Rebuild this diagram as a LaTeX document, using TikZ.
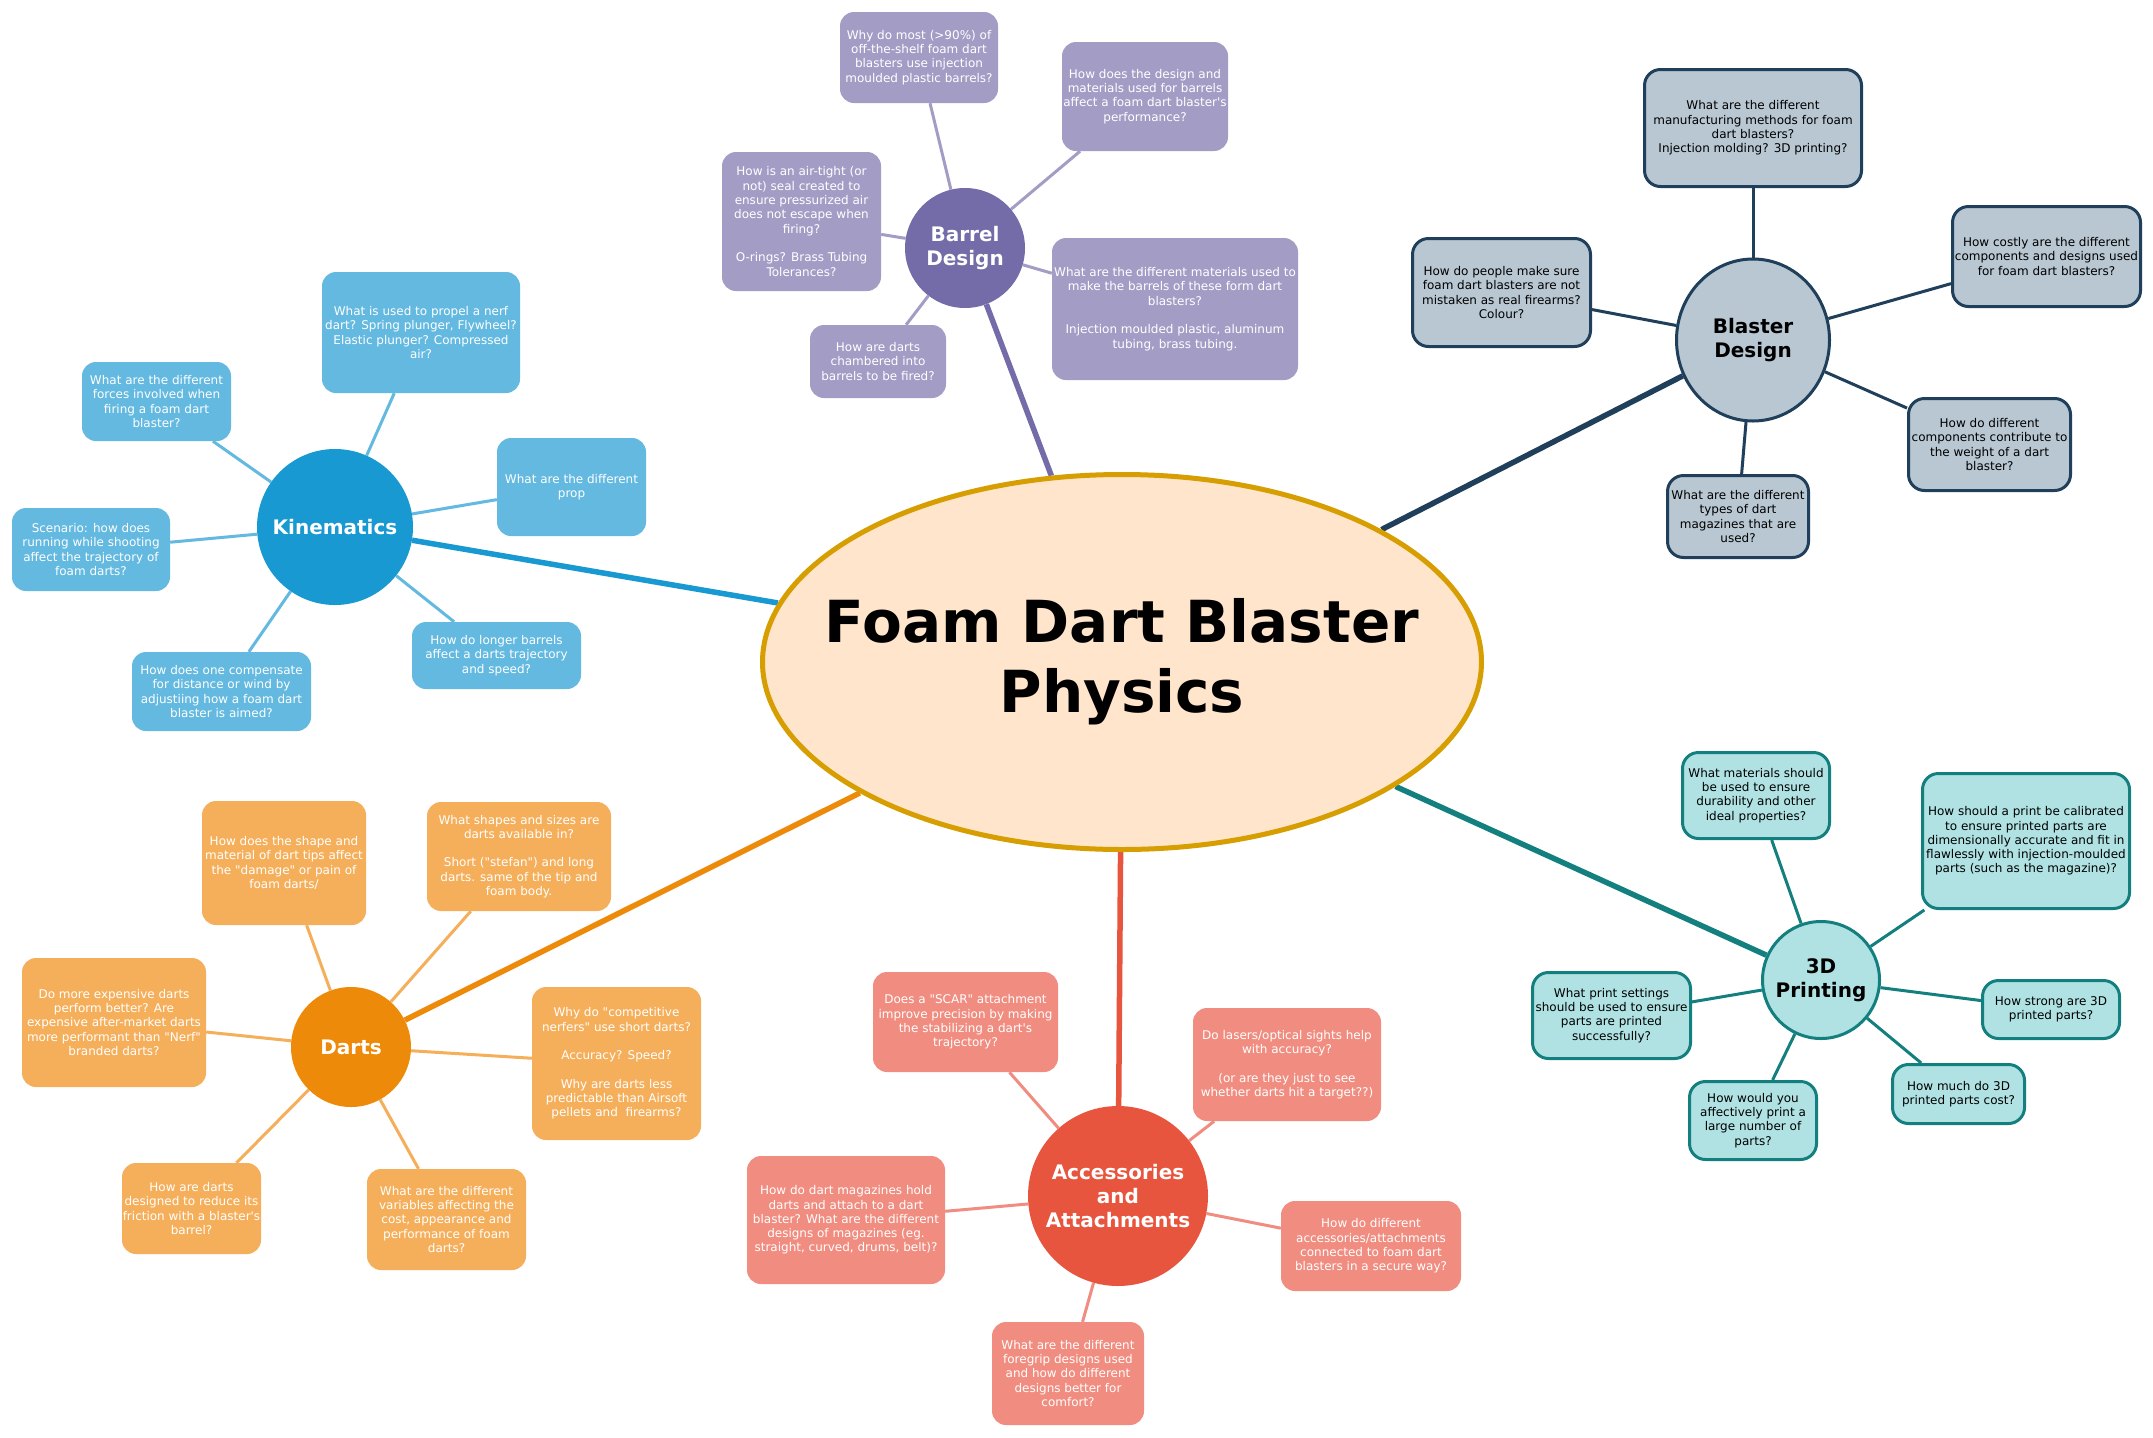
\documentclass[tikz,border=0pt]{standalone}
\usepackage{fontspec}
\setmainfont{DejaVu Sans}
\newfontfamily\dvs{DejaVu Sans}
\usetikzlibrary{shapes.geometric}
\pgfdeclarelayer{back}
\pgfdeclarelayer{edges}
\pgfsetlayers{back,edges,main}
\definecolor{cenF}{HTML}{FFE5CC}
\definecolor{cenB}{HTML}{D69E00}
\definecolor{kinD}{HTML}{1899D1}
\definecolor{kinL}{HTML}{63B9E0}
\definecolor{barD}{HTML}{736CA8}
\definecolor{barL}{HTML}{A39DC6}
\definecolor{blaF}{HTML}{B8C7D2}
\definecolor{blaB}{HTML}{1F3F5A}
\definecolor{darD}{HTML}{EE8A0A}
\definecolor{darL}{HTML}{F5AF5B}
\definecolor{accD}{HTML}{E8553F}
\definecolor{accL}{HTML}{F08D80}
\definecolor{triF}{HTML}{B0E2E3}
\definecolor{triB}{HTML}{13807F}
\tikzset{
  txt/.style={align=center, font=\dvs\fontsize{12}{14.3}\selectfont, inner sep=0pt},
  topic/.style={align=center, font=\dvs\bfseries\fontsize{20}{24}\selectfont, inner sep=0pt},
  kbox/.style={txt, rectangle, rounded corners=14pt, fill=kinL, text=white},
  bbox/.style={txt, rectangle, rounded corners=14pt, fill=barL, text=white},
  dbox/.style={txt, rectangle, rounded corners=14pt, fill=darL, text=white},
  abox/.style={txt, rectangle, rounded corners=14pt, fill=accL, text=white},
  lbox/.style={txt, rectangle, rounded corners=16pt, fill=blaF, draw=blaB, line width=3pt, text=black},
  pbox/.style={txt, rectangle, rounded corners=16pt, fill=triF, draw=triB, line width=3pt, text=black},
  kline/.style={draw=kinL, line width=3pt},
  bline/.style={draw=barL, line width=3pt},
  dline/.style={draw=darL, line width=3pt},
  aline/.style={draw=accL, line width=3pt},
  lline/.style={draw=blaB, line width=3pt},
  pline/.style={draw=triB, line width=3pt},
  mainline/.style={line width=5.5pt},
}
\begin{document}
\begin{tikzpicture}[x=1pt,y=-1pt]
\useasboundingbox (0,0) rectangle (2153,1438);
\begin{pgfonlayer}{back}
\fill[white] (0,0) rectangle (2153,1438);
\end{pgfonlayer}

% central
\node[ellipse, fill=cenF, draw=cenB, line width=5pt, minimum width=719, minimum height=375, inner sep=0pt] (C) at (1122,662) {};
\node[align=center, inner sep=0pt, font=\dvs\bfseries\fontsize{58}{70}\selectfont] (Ct) at (C.center) {Foam Dart Blaster\\Physics};

% topics
\node[circle, fill=kinD, text=white, topic, minimum size=156] (kin) at (335,527) {Kinematics};
\node[circle, fill=barD, text=white, topic, minimum size=120] (bar) at (965,248) {Barrel\\Design};
\node[ellipse, fill=blaF, draw=blaB, line width=3pt, text=black, topic, minimum width=153, minimum height=162] (bla) at (1753,340) {Blaster\\Design};
\node[circle, fill=darD, text=white, topic, minimum size=120] (dar) at (351,1047) {Darts};
\node[circle, fill=accD, text=white, topic, minimum size=180] (acc) at (1118,1196) {Accessories\\and\\Attachments};
\node[circle, fill=triF, draw=triB, line width=3pt, text=black, topic, minimum size=117] (tri) at (1821,980) {3D\\Printing};

% Barrel Design
\node[bbox, minimum width=158, minimum height=91] (b1) at (919,57.5) {Why do most (>90\%) of\\off-the-shelf foam dart\\blasters use injection\\moulded plastic barrels?};
\node[bbox, minimum width=166, minimum height=109] (b2) at (1145,96.5) {How does the design and\\materials used for barrels\\affect a foam dart blaster's\\performance?};
\node[bbox, minimum width=159, minimum height=139] (b3) at (801.5,221.5) {How is an air-tight (or\\not) seal created to\\ensure pressurized air\\does not escape when\\firing?\\[14.3pt]O-rings? Brass Tubing\\Tolerances?};
\node[bbox, minimum width=136, minimum height=73] (b4) at (878,361.5) {How are darts\\chambered into\\barrels to be fired?};
\node[bbox, minimum width=246, minimum height=142] (b5) at (1175,309) {What are the different materials used to\\make the barrels of these form dart\\blasters?\\[14.3pt]Injection moulded plastic, aluminum\\tubing, brass tubing.};

% Blaster Design
\node[lbox, minimum width=217, minimum height=117] (l1) at (1753,128) {What are the different\\manufacturing methods for foam\\dart blasters?\\Injection molding? 3D printing?};
\node[lbox, minimum width=188, minimum height=100] (l2) at (2046.5,256.5) {How costly are the different\\components and designs used\\for foam dart blasters?};
\node[lbox, minimum width=178, minimum height=108] (l3) at (1501.5,292.5) {How do people make sure\\foam dart blasters are not\\mistaken as real firearms?\\Colour?};
\node[lbox, minimum width=162, minimum height=92] (l4) at (1989.5,444.5) {How do different\\components contribute to\\the weight of a dart\\blaster?};
\node[lbox, minimum width=141, minimum height=82] (l5) at (1738,516.5) {What are the different\\types of dart\\magazines that are\\used?};

% Kinematics
\node[kbox, minimum width=198, minimum height=121] (k1) at (421,332.5) {What is used to propel a nerf\\dart? Spring plunger, Flywheel?\\Elastic plunger? Compressed\\air?};
\node[kbox, minimum width=149, minimum height=79] (k2) at (156.5,401.5) {What are the different\\forces involved when\\firing a foam dart\\blaster?};
\node[kbox, minimum width=149, minimum height=98] (k3) at (571.5,487) {What are the different\\prop};
\node[kbox, minimum width=158, minimum height=83] (k4) at (91,549.5) {Scenario: how does\\running while shooting\\affect the trajectory of\\foam darts?};
\node[kbox, minimum width=179, minimum height=79] (k5) at (221.5,691.5) {How does one compensate\\for distance or wind by\\adjustiing how a foam dart\\blaster is aimed?};
\node[kbox, minimum width=169, minimum height=67] (k6) at (496.5,655.5) {How do longer barrels\\affect a darts trajectory\\and speed?};

% Darts
\node[dbox, minimum width=164, minimum height=124] (d1) at (284,863) {How does the shape and\\material of dart tips affect\\the "damage" or pain of\\foam darts/};
\node[dbox, minimum width=184, minimum height=109] (d2) at (519,856.5) {What shapes and sizes are\\darts available in?\\[14.3pt]Short ("stefan") and long\\darts. same of the tip and\\foam body.};
\node[dbox, minimum width=184, minimum height=129] (d3) at (114,1022.5) {Do more expensive darts\\perform better? Are\\expensive after-market darts\\more performant than "Nerf"\\branded darts?};
\node[dbox, minimum width=169, minimum height=153] (d4) at (616.5,1063.5) {Why do "competitive\\nerfers" use short darts?\\[14.3pt]Accuracy? Speed?\\[14.3pt]Why are darts less\\predictable than Airsoft\\pellets and\ \ firearms?};
\node[dbox, minimum width=139, minimum height=91] (d5) at (191.5,1208.5) {How are darts\\designed to reduce its\\friction with a blaster's\\barrel?};
\node[dbox, minimum width=159, minimum height=101] (d6) at (446.5,1219.5) {What are the different\\variables affecting the\\cost, appearance and\\performance of foam\\darts?};

% Accessories
\node[abox, minimum width=185, minimum height=100] (a1) at (965.5,1022) {Does a "SCAR" attachment\\improve precision by making\\the stabilizing a dart's\\trajectory?};
\node[abox, minimum width=188, minimum height=113] (a2) at (1287,1064.5) {Do lasers/optical sights help\\with accuracy?\\[14.3pt](or are they just to see\\whether darts hit a target??)};
\node[abox, minimum width=198, minimum height=128] (a3) at (846,1220) {How do dart magazines hold\\darts and attach to a dart\\blaster? What are the different\\designs of magazines (eg.\\straight, curved, drums, belt)?};
\node[abox, minimum width=180, minimum height=90] (a4) at (1371,1246) {How do different\\accessories/attachments\\connected to foam dart\\blasters in a secure way?};
\node[abox, minimum width=152, minimum height=103] (a5) at (1068,1373.5) {What are the different\\foregrip designs used\\and how do different\\designs better for\\comfort?};

% 3D Printing
\node[pbox, minimum width=147, minimum height=86] (p1) at (1756,795.5) {What materials should\\be used to ensure\\durability and other\\ideal properties?};
\node[pbox, minimum width=207, minimum height=135] (p2) at (2026,841) {How should a print be calibrated\\to ensure printed parts are\\dimensionally accurate and fit in\\flawlessly with injection-moulded\\parts (such as the magazine)?};
\node[pbox, minimum width=158, minimum height=86] (p3) at (1611.5,1015.5) {What print settings\\should be used to ensure\\parts are printed\\successfully?};
\node[pbox, minimum width=137, minimum height=58] (p4) at (2051,1009.5) {How strong are 3D\\printed parts?};
\node[pbox, minimum width=127, minimum height=78] (p5) at (1753,1120.5) {How would you\\affectively print a\\large number of\\parts?};
\node[pbox, minimum width=132, minimum height=59] (p6) at (1958.5,1094) {How much do 3D\\printed parts cost?};

\begin{pgfonlayer}{edges}
\draw[mainline, draw=kinD] (C) -- (kin);
\draw[mainline, draw=barD] (C) -- (bar);
\draw[mainline, draw=blaB] (C) -- (bla);
\draw[mainline, draw=darD] (C) -- (dar);
\draw[mainline, draw=accD] (C) -- (acc);
\draw[mainline, draw=triB] (C) -- (tri);
\foreach \n in {b1,b2,b3,b4,b5} \draw[bline] (bar) -- (\n);
\foreach \n in {l1,l2,l3,l4,l5} \draw[lline] (bla) -- (\n);
\foreach \n in {k1,k2,k3,k4,k5,k6} \draw[kline] (kin) -- (\n);
\foreach \n in {d1,d2,d3,d4,d5,d6} \draw[dline] (dar) -- (\n);
\foreach \n in {a1,a2,a3,a4,a5} \draw[aline] (acc) -- (\n);
\foreach \n in {p1,p2,p3,p4,p5,p6} \draw[pline] (tri) -- (\n);
\end{pgfonlayer}
\end{tikzpicture}
\end{document}
